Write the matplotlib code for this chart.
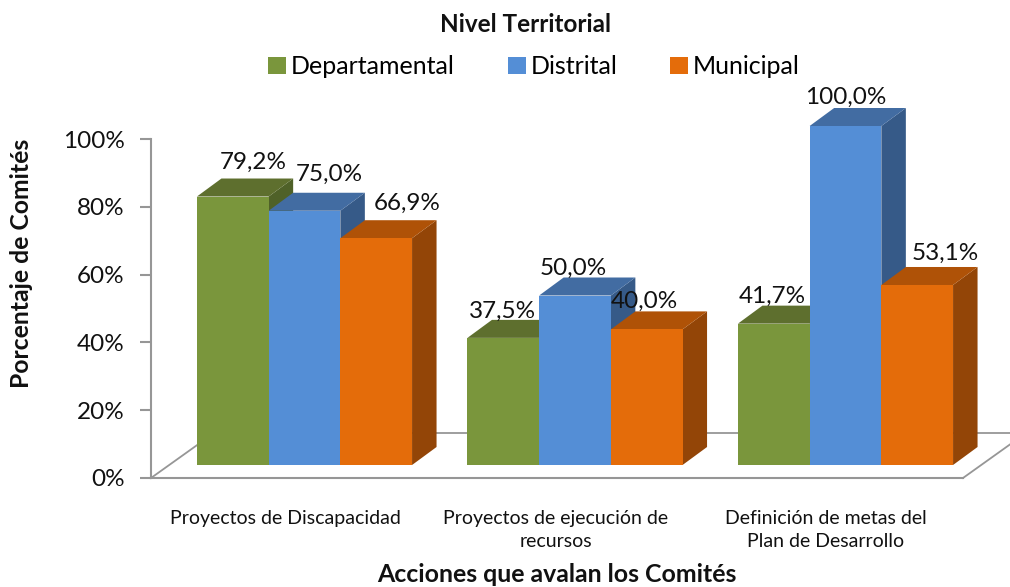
import matplotlib
matplotlib.use('Agg')
import matplotlib.pyplot as plt
from matplotlib.patches import Polygon, Patch

categories = ['Proyectos de Discapacidad', 'Proyectos de ejecución de\nrecursos',
              'Definición de metas del\nPlan de Desarrollo']
series_names = ['Departamental', 'Distrital', 'Municipal']
departamental = [79.2, 37.5, 41.7]
distrital = [75.0, 50.0, 100.0]
municipal = [66.9, 40.0, 53.1]
value_labels = [['79,2%', '37,5%', '41,7%'],
                ['75,0%', '50,0%', '100,0%'],
                ['66,9%', '40,0%', '53,1%']]
y_ticks = [0, 20, 40, 60, 80, 100]
y_tick_labels = ['0%', '20%', '40%', '60%', '80%', '100%']

# label nudges in pixels from the middle of the bar / back edge of its top
label_nudge = [[(20, 16), (-1, 9), (-2, 9)],
               [(25, 18), (-2, 9), (0, 11)],
               [(31, 17), (-2, 10), (28, 14)]]

W, H = 1010, 587
AX_L, AX_R, AX_T, AX_B = 151, 963, 139, 478
GROUP_PX = 270.5
X0_PX = 304.5

front = ['#7A963C', '#548ED6', '#E46C0A']
top = ['#5E6F2E', '#426CA2', '#AF5207']
side = ['#4F6128', '#365A88', '#934507']
grey = '#969696'
ink = '#111111'

plt.rcParams['font.family'] = ['Lato', 'DejaVu Sans']

fig = plt.figure(figsize=(W / 100, H / 100), dpi=100)
ax = fig.add_axes([AX_L / W, 1 - AX_B / H, (AX_R - AX_L) / W, (AX_B - AX_T) / H])
ax.set_ylim(0, 100)
ax.set_xlim((AX_L - X0_PX) / GROUP_PX, (AX_R - X0_PX) / GROUP_PX)

px_x = 1 / GROUP_PX
px_y = 100 / (AX_B - AX_T)
floor = 13 * px_y
bar_w = 71.7 * px_x
dx, dy = 24.5 * px_x, 18 * px_y

# floor of the 3d box
x_l, x_r = ax.get_xlim()
fdx, fdy = 63 * px_x, 45 * px_y
ax.plot([x_l, x_l + fdx, x_r + fdx], [0, fdy, fdy], color=grey, lw=1.3, clip_on=False, zorder=1)
ax.plot([x_r, x_r + fdx], [0, fdy], color=grey, lw=1.3, clip_on=False, zorder=1)

for s, vals in enumerate([departamental, distrital, municipal]):
    for c, v in enumerate(vals):
        x = c + (s - 1.5) * bar_w
        y1 = floor + v
        ax.add_patch(Polygon([(x + bar_w, floor), (x + bar_w + dx, floor + dy),
                              (x + bar_w + dx, y1 + dy), (x + bar_w, y1)],
                             fc=side[s], ec='none', clip_on=False, zorder=2 + s))
        ax.add_patch(Polygon([(x, y1), (x + dx, y1 + dy), (x + bar_w + dx, y1 + dy), (x + bar_w, y1)],
                             fc=top[s], ec='none', clip_on=False, zorder=2 + s))
        ax.bar(x, v, bar_w, bottom=floor, align='edge', color=front[s], zorder=2 + s, clip_on=False)
        nx, ny = label_nudge[s][c]
        ax.text(x + bar_w / 2 + nx * px_x, y1 + dy + ny * px_y, value_labels[s][c], ha='center', va='center',
                fontsize=17.5, color=ink, zorder=10, clip_on=False)

for name in ['top', 'right']:
    ax.spines[name].set_visible(False)
for name in ['left', 'bottom']:
    ax.spines[name].set_color(grey)
    ax.spines[name].set_linewidth(1.5)

ax.set_yticks(y_ticks)
ax.set_yticklabels(y_tick_labels, fontsize=17.5, color=ink)
ax.tick_params(axis='y', length=8, width=1.5, color=grey, pad=11)
# category labels sit left of the bars, centred on the floor front
ax.set_xticks([c - 19.5 * px_x for c in range(len(categories))])
ax.set_xticklabels(categories, fontsize=14, color=ink, linespacing=1.45)
ax.tick_params(axis='x', length=0, pad=23)

fig.text(525 / W, 1 - 25 / H, 'Nivel Territorial', ha='center', va='center', fontsize=17.5,
         fontweight='bold', color=ink)
fig.text(557 / W, 1 - 575 / H, 'Acciones que avalan los Comités', ha='center', va='center', fontsize=17.9,
         fontweight='bold', color=ink)
fig.text(22 / W, 1 - 263 / H, 'Porcentaje de Comités', rotation=90, ha='center', va='center', fontsize=17.8,
         fontweight='bold', color=ink)

handles = [Patch(fc=c) for c in front]
fig.legend(handles, series_names, ncol=3, frameon=False, fontsize=18, loc='center',
           bbox_to_anchor=(534 / W, 1 - 67 / H), handlelength=0.72, handleheight=0.65,
           handletextpad=0.2, columnspacing=2.1)

fig.savefig('out.png', dpi=100)
